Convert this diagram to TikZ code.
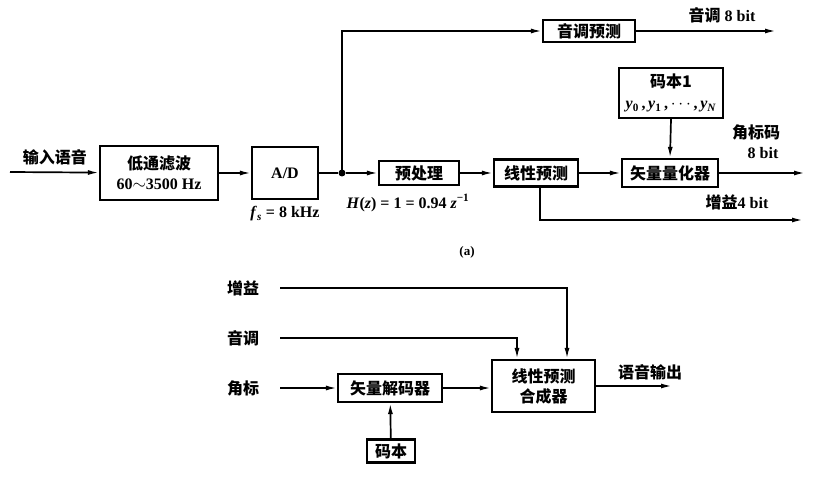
\documentclass[tikz,border=0pt]{standalone}
\usepackage{fontspec}
\setmainfont{Liberation Serif}
\newfontfamily\cjk{Noto Sans CJK SC}
\usetikzlibrary{arrows.meta,calc}
\begin{document}
\begin{tikzpicture}[x=1pt,y=-1pt,
  font=\fontsize{16}{18}\selectfont\bfseries,
  blk/.style={draw,line width=2.2pt,inner sep=1pt,align=center},
  lbl/.style={inner sep=0pt,align=center},
  conn/.style={line width=1.7pt},
  arr/.style={conn,-{Latex[length=11pt,width=5pt]}},
  dotc/.style={circle,fill,inner sep=0pt,minimum size=7pt}]
\useasboundingbox (0,0) rectangle (816,478);
% ---------- (a) ----------
\coordinate (in) at (10,172);
\node[blk,minimum width=118pt,minimum height=54pt] (lp) at (159,173) {{\cjk 低通滤波}\\[2pt]60$\sim$3500 Hz};
\node[blk,minimum width=66pt,minimum height=52pt] (ad) at (285,173) {A/D};
\node[dotc] (dot) at (342,173) {};
\node[blk,minimum width=80pt,minimum height=24pt] (pre) at (419,173) {\cjk 预处理};
\node[blk,minimum width=84pt,minimum height=27pt] (lpc) at (536,173) {\cjk 线性预测};
\node[blk,minimum width=96pt,minimum height=28pt] (vq) at (670,173) {\cjk 矢量量化器};
\node[blk,minimum width=92pt,minimum height=22pt] (pit) at (589,31) {\cjk 音调预测};
\node[blk,minimum width=104pt,minimum height=50pt] (cb1) at (671,93) {{\cjk 码本1}\\[3pt]\textit{y}\textsubscript{0}\,,\,\textit{y}\textsubscript{1}\,,\,$\cdots$\,,\,\textit{y}\textsubscript{\textit{N}}};
\coordinate (pitout) at (776,31);
\coordinate (vqout) at (805,173);
\coordinate (gout) at (803,220);
\coordinate (gcorner) at (540,220);
\coordinate (up) at (342,31);

\node[lbl] (tin) at (55,157) {\cjk 输入语音};
\node[lbl] (tfs) at (285,214) {\textit{f}\textsubscript{\textit{s}} = 8 kHz};
\node[lbl] (th) at (408,203) {\textit{H}(\textit{z}) = 1 = 0.94 \textit{z}\textsuperscript{−1}};
\node[lbl] (tpit) at (722,15) {{\cjk 音调} 8 bit};
\node[lbl] (tjb) at (756,132) {\cjk 角标码};
\node[lbl] (tjb2) at (763,153) {8 bit};
\node[lbl] (tg) at (737,202) {{\cjk 增益}4 bit};
\node[lbl] (ta) at (467,252) {\fontsize{13}{15}\selectfont (a)};

\draw[arr] (in) -- (lp);
\draw[arr] (lp) -- (ad);
\draw[conn] (ad) -- (dot);
\draw[arr] (dot) -- (pre);
\draw[arr] (dot.center) -- (up) -- (pit);
\draw[arr] (pit) -- (pitout);
\draw[arr] (pre) -- (lpc);
\draw[arr] (lpc) -- (vq);
\draw[arr] (cb1.south) -- (vq.north);
\draw[arr] (vq) -- (vqout);
\draw[arr] (lpc.south -| gcorner) -- (gcorner) -- (gout);

% ---------- (b) ----------
\node[lbl] (tg2) at (243,288) {\cjk 增益};
\node[lbl] (tp2) at (243,338) {\cjk 音调};
\node[lbl] (ta2) at (243,388) {\cjk 角标};
\coordinate (g0) at (280,288);
\coordinate (p0) at (280,338);
\coordinate (a0) at (280,388);
\node[blk,minimum width=104pt,minimum height=28pt] (dec) at (390,388) {\cjk 矢量解码器};
\node[blk,minimum width=103pt,minimum height=52pt] (syn) at (543.5,386) {\cjk 线性预测\\[2pt]\cjk 合成器};
\node[blk,minimum width=48pt,minimum height=23pt] (cb) at (391,451) {\cjk 码本};
\coordinate (out) at (672,386);
\node[lbl] (tout) at (650,372) {\cjk 语音输出};

\draw[arr] (g0) -| ($(syn.north)+(23.5,0)$);
\draw[arr] (p0) -| ($(syn.north)+(-26.5,0)$);
\draw[arr] (a0) -- (dec);
\draw[arr] (dec) -- (syn.west |- dec);
\draw[arr] (cb) -- (dec);
\draw[arr] (syn) -- (out);
\end{tikzpicture}
\end{document}
